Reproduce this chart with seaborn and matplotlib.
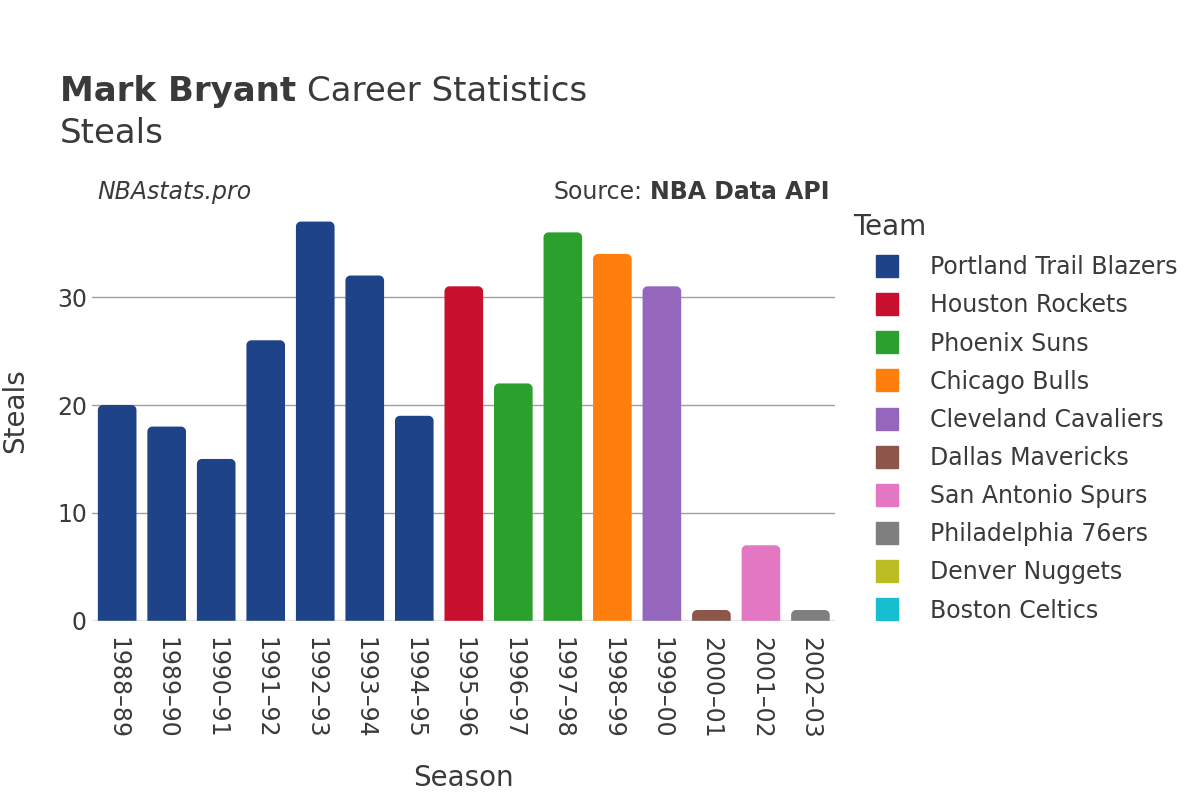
import matplotlib
matplotlib.use("Agg")
import matplotlib.pyplot as plt
import seaborn as sns
import pandas as pd
import numpy as np
from matplotlib.patches import PathPatch
from matplotlib.path import Path
from matplotlib.lines import Line2D

seasons = ["1988–89", "1989–90", "1990–91", "1991–92", "1992–93", "1993–94", "1994–95",
           "1995–96", "1996–97", "1997–98", "1998–99", "1999–00", "2000–01", "2001–02", "2002–03"]
steals = [20, 18, 15, 26, 37, 32, 19, 31, 22, 36, 34, 31, 1, 7, 1]
teams = ["Portland Trail Blazers"] * 7 + ["Houston Rockets", "Phoenix Suns", "Phoenix Suns",
         "Chicago Bulls", "Cleveland Cavaliers", "Dallas Mavericks", "San Antonio Spurs",
         "Philadelphia 76ers"]
team_order = ["Portland Trail Blazers", "Houston Rockets", "Phoenix Suns", "Chicago Bulls",
              "Cleveland Cavaliers", "Dallas Mavericks", "San Antonio Spurs",
              "Philadelphia 76ers", "Denver Nuggets", "Boston Celtics"]
team_colors = ["#1f4388", "#c8102e", "#2ca02c", "#ff7f0e", "#9467bd", "#8c564b",
               "#e377c2", "#7f7f7f", "#bcbd22", "#17becf"]
palette = dict(zip(team_order, team_colors))

df = pd.DataFrame({"Season": seasons, "Steals": steals, "Team": teams})

sns.set_theme(style="white")
plt.rcParams["font.family"] = ["DejaVu Sans"]
text_color = "#3a3a3a"

fig = plt.figure(figsize=(12, 8), dpi=100)
ax = fig.add_axes([0.077, 0.224, 0.619, 0.526])

sns.barplot(data=df, x="Season", y="Steals", hue="Team", hue_order=team_order,
            palette=palette, dodge=False, width=0.78, legend=False, ax=ax, saturation=1)

ax.set_ylim(0, 39)
ax.set_xlim(-0.5, len(seasons) - 0.5)

# rounded tops
fig.canvas.draw()
bbox = ax.get_window_extent()
px_per_x = bbox.width / (ax.get_xlim()[1] - ax.get_xlim()[0])
px_per_y = bbox.height / (ax.get_ylim()[1] - ax.get_ylim()[0])
r_px = 5
theta = np.linspace(0, np.pi / 2, 12)
for p in list(ax.patches):
    h = p.get_height()
    x0, w = p.get_x(), p.get_width()
    col = p.get_facecolor()
    p.remove()
    if h <= 0 or pd.isna(h):
        continue
    x1 = x0 + w
    rx = r_px / px_per_x
    ry = min(r_px / px_per_y, h)
    left_arc = np.column_stack([x0 + rx - rx * np.cos(theta), h - ry + ry * np.sin(theta)])
    right_arc = np.column_stack([x1 - rx + rx * np.sin(theta), h - ry + ry * np.cos(theta)])
    verts = np.vstack([[x0, 0], left_arc, right_arc, [x1, 0], [x0, 0]])
    codes = [Path.MOVETO] + [Path.LINETO] * (len(verts) - 2) + [Path.CLOSEPOLY]
    ax.add_patch(PathPatch(Path(verts, codes), facecolor=col, edgecolor="none",
                           linewidth=0, zorder=3))

ax.set_yticks([0, 10, 20, 30])
ax.yaxis.grid(True, color="#a0a0a0", linewidth=1)
ax.set_axisbelow(True)
ax.axhline(0, color="#e6e6e6", linewidth=2.5, zorder=2)
for s in ax.spines.values():
    s.set_visible(False)
ax.tick_params(axis="x", labelsize=17, colors=text_color, rotation=-90, pad=12, length=0)
ax.tick_params(axis="y", labelsize=17, colors=text_color, pad=4, length=0)
for lab in ax.get_xticklabels():
    lab.set_va("top")
    lab.set_ha("center")
ax.set_xlabel("Season", fontsize=20, color=text_color, labelpad=18)
ax.set_ylabel("Steals", fontsize=20, color=text_color, labelpad=20)

# titles
t1 = fig.text(60 / 1200, 1 - 101 / 800, "Mark Bryant", fontsize=24.5, fontweight="bold",
              color=text_color, va="baseline")
fig.canvas.draw()
ext = t1.get_window_extent()
fig.text((ext.x1 + 11) / 1200, 1 - 101 / 800, "Career Statistics", fontsize=24.5,
         color=text_color, va="baseline")
fig.text(60 / 1200, 1 - 143 / 800, "Steals", fontsize=24.5, color=text_color, va="baseline")
fig.text(97 / 1200, 1 - 199 / 800, "NBAstats.pro", fontsize=17, style="italic",
         color=text_color, va="baseline")
s2 = fig.text(830 / 1200, 1 - 199 / 800, "NBA Data API", fontsize=17, fontweight="bold",
              color=text_color, va="baseline", ha="right")
fig.canvas.draw()
e2 = s2.get_window_extent()
fig.text((e2.x0 - 8) / 1200, 1 - 199 / 800, "Source:", fontsize=17,
         color=text_color, va="baseline", ha="right")

handles = [Line2D([0], [0], marker="s", linestyle="none", markersize=16,
                  markerfacecolor=c, markeredgecolor=c) for c in team_colors]
leg = fig.legend(handles, team_order, loc="upper left", bbox_to_anchor=(853 / 1200, 1 - 213 / 800),
                 frameon=False, fontsize=17, title="Team", title_fontsize=20,
                 labelspacing=0.6, handlelength=2.9, handletextpad=0.34, borderaxespad=0,
                 borderpad=0)
leg._legend_box.align = "left"
for t in leg.get_texts():
    t.set_color(text_color)
leg.get_title().set_color(text_color)

fig.savefig("out.png", dpi=100)
